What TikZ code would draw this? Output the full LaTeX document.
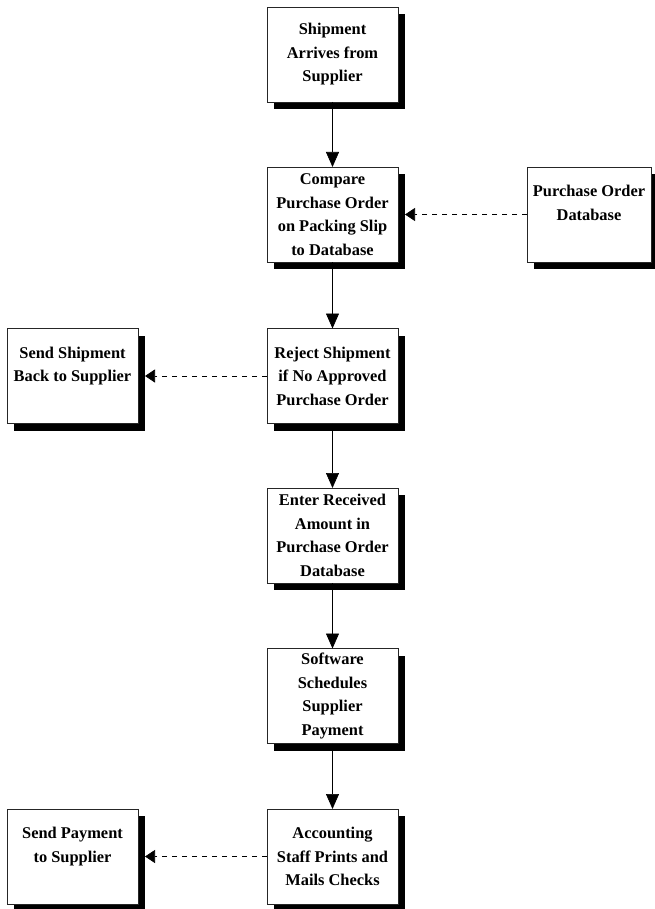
\documentclass[tikz,border=0pt]{standalone}
\usepackage{fontspec}
\setmainfont{Liberation Serif}
\usepackage{tikz}
\usetikzlibrary{arrows.meta,shadows}

\begin{document}
\begin{tikzpicture}[x=1pt, y=-1pt,
    stepbox/.style={draw=black!85, line width=0.8pt, fill=white, align=center,
      inner sep=2pt, outer sep=0pt, minimum width=131pt, minimum height=95pt,
      font=\fontsize{16.4}{23.5}\selectfont\bfseries,
      drop shadow={shadow xshift=7pt, shadow yshift=-7pt, fill=black, opacity=1}},
    flow/.style={line width=0.7pt, -{Triangle[length=15pt, width=13pt]}},
    feed/.style={line width=0.7pt, dash pattern=on 5pt off 5pt, -{Triangle[length=10pt, width=13pt]}}]
      \useasboundingbox (0, 0) rectangle (654, 909);
      \node[stepbox] (arrive) at (332.5, 54.5) {Shipment\\Arrives from\\Supplier};
      \node[stepbox] (compare) at (332.5, 214.5) {Compare\\Purchase Order\\on Packing Slip\\to Database};
      \node[stepbox, minimum width=124pt] (podb) at (589, 214.5) {Purchase Order\\Database\\\mbox{}};
      \node[stepbox] (reject) at (332.5, 376) {Reject Shipment\\if No Approved\\Purchase Order};
      \node[stepbox] (sendback) at (72.5, 376) {Send Shipment\\Back to Supplier\\\mbox{}};
      \node[stepbox] (enter) at (332.5, 535.5) {Enter Received\\Amount in\\Purchase Order\\Database};
      \node[stepbox] (schedule) at (332.5, 696) {Software\\Schedules\\Supplier\\Payment};
      \node[stepbox] (mail) at (332.5, 856.5) {Accounting\\Staff Prints and\\Mails Checks};
      \node[stepbox] (sendpay) at (72.5, 856.5) {Send Payment\\to Supplier\\\mbox{}};
      \draw[flow] (arrive) -- (compare);
      \draw[flow] (compare) -- (reject);
      \draw[flow] (reject) -- (enter);
      \draw[flow] (enter) -- (schedule);
      \draw[flow] (schedule) -- (mail);
      \draw[feed] (podb.west) -- ([xshift=7pt]compare.east);
      \draw[feed] (reject.west) -- ([xshift=7pt]sendback.east);
      \draw[feed] (mail.west) -- ([xshift=7pt]sendpay.east);
\end{tikzpicture}
\end{document}
